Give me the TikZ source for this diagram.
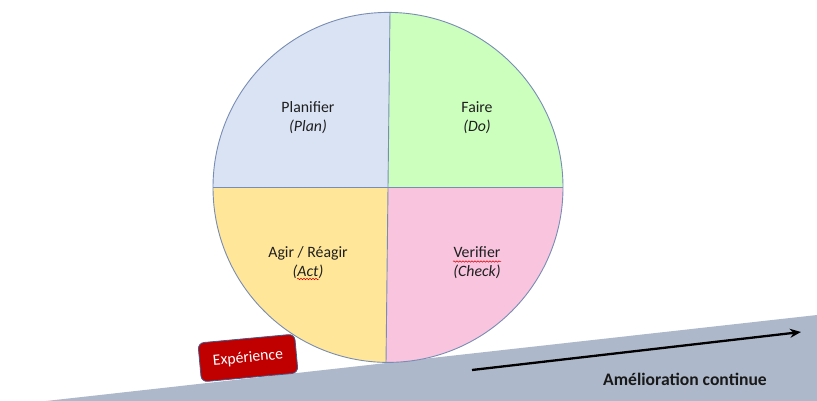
\documentclass[tikz,border=0pt]{standalone}
\usepackage{fontspec}
\setmainfont{Carlito}
\usetikzlibrary{arrows.meta,decorations.pathmorphing,calc}
\definecolor{qblue}{RGB}{218,227,243}
\definecolor{qgreen}{RGB}{204,255,190}
\definecolor{qyellow}{RGB}{255,230,153}
\definecolor{qpink}{RGB}{248,196,222}
\definecolor{slopegrey}{RGB}{173,185,202}
\definecolor{edgeblue}{RGB}{120,140,180}
\definecolor{expred}{RGB}{192,0,0}
\definecolor{expedge}{RGB}{65,90,140}
\tikzset{
  edge/.style={draw=edgeblue, line width=0.9pt},
  lbl/.style={align=center, text=black!88, font=\fontsize{15.8}{19}\selectfont},
  expbox/.style={draw=expedge, line width=0.8pt, fill=expred, rounded corners=6pt,
    minimum width=97pt, minimum height=39pt, text=white, inner sep=0pt,
    font=\fontsize{15.7}{18}\selectfont},
  spell/.style={draw=red!85!black, line width=0.5pt, decorate,
    decoration={snake, amplitude=0.7pt, segment length=3pt}},
  bigarrow/.style={line width=2.3pt, -{Stealth[length=11pt,width=9pt]}}
}
\begin{document}
\begin{tikzpicture}[x=1pt,y=-1pt]
\useasboundingbox (0,0) rectangle (817,401);
% slope
\fill[slopegrey] (46,401) -- (817,315) -- (817,401) -- cycle;
% circle
\coordinate (C) at (388,187.4);
\fill[qblue] (C) -- ++(180:175) arc[start angle=180, end angle=270.65, radius=175] -- cycle;
\fill[qgreen] (C) -- ++(270.65:175) arc[start angle=270.65, end angle=360, radius=175] -- cycle;
\fill[qpink] (C) -- ++(0:175) arc[start angle=0, end angle=90.65, radius=175] -- cycle;
\fill[qyellow] (C) -- ++(90.65:175) arc[start angle=90.65, end angle=180, radius=175] -- cycle;
\coordinate (T) at ($(C)+(270.65:175)$);
\coordinate (B) at ($(C)+(90.65:175)$);
\coordinate (L) at ($(C)+(180:175)$);
\coordinate (R) at ($(C)+(0:175)$);
\draw[edge] (T) -- (B);
\draw[edge] (L) -- (R);
\draw[edge] (C) circle[radius=175];
% labels
\node[lbl] (plan) at (308,117.5) {Planifier\\\textit{(Plan)}};
\node[lbl] (do) at (477,117.5) {Faire\\\textit{(Do)}};
\node[lbl] (act) at (308,262.5) {Agir / Réagir\\\textit{(Act)}};
\node[lbl] (check) at (477,262.5) {Verifier\\\textit{(Check)}};
\draw[spell] ([xshift=-24pt,yshift=1pt]check.center) -- ([xshift=24pt,yshift=1pt]check.center);
\draw[spell] ([xshift=-11pt,yshift=-16.5pt]act.center) -- ([xshift=11pt,yshift=-16.5pt]act.center);
% experience box
\node[expbox, rotate=5.3] (exp) at (248,358) {Expérience};
% arrow
\coordinate (a1) at (472,370);
\coordinate (a2) at (801,332);
\draw[bigarrow] (a1) -- (a2);
\node[font=\fontsize{17.6}{20}\selectfont\bfseries, text=black!90] (amel) at (685,379) {Amélioration continue};
\end{tikzpicture}
\end{document}
